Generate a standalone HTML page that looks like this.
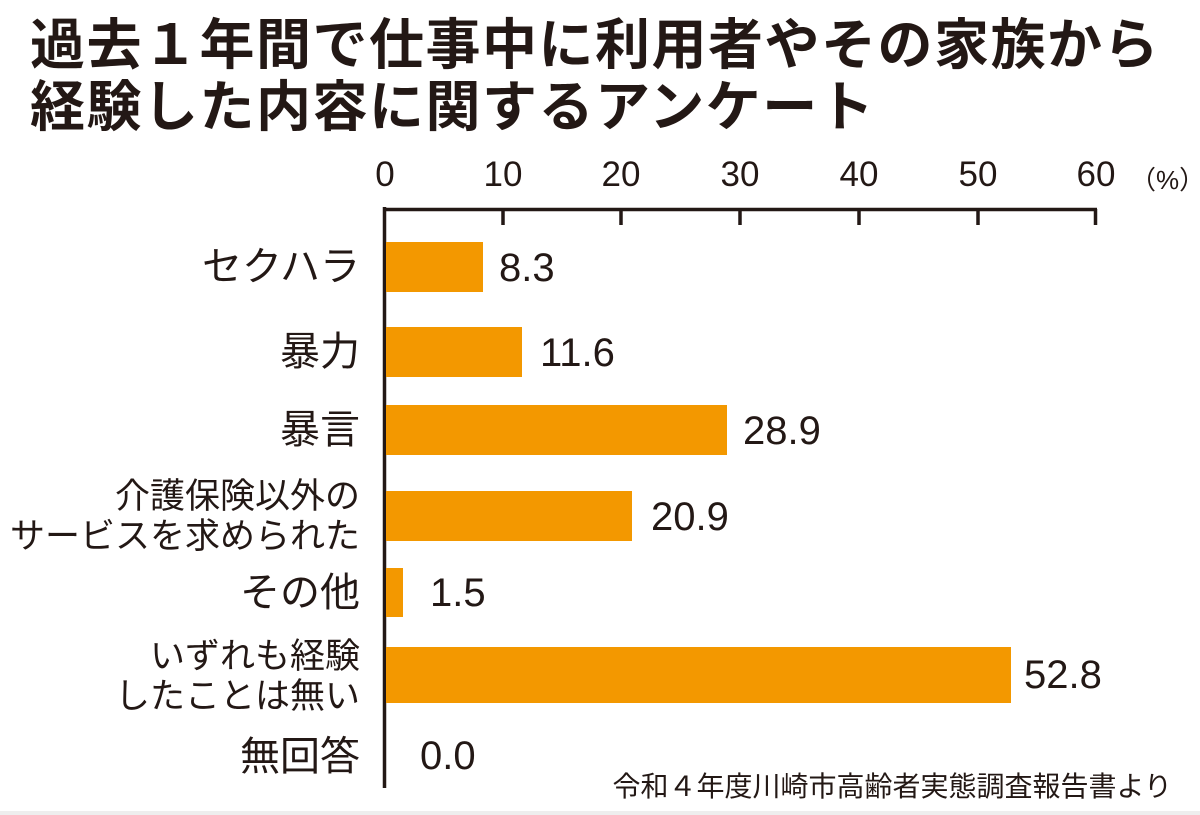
<!DOCTYPE html>
<html><head><meta charset="utf-8"><style>
body{margin:0;width:1200px;height:815px;background:#fff;overflow:hidden;position:relative;font-family:"Liberation Sans","Noto Sans CJK JP",sans-serif;color:#231815}
.t{position:absolute;left:30px;font-size:55px;font-weight:bold;line-height:1;letter-spacing:1.5px;white-space:nowrap}
.lab{position:absolute;right:840px;text-align:right;font-size:40px;line-height:1;white-space:nowrap}
.lab2{position:absolute;right:840px;text-align:right;font-size:35px;line-height:40px;white-space:nowrap}
.bar{position:absolute;left:386px;background:#f39800}
.v{position:absolute;font-size:40px;line-height:1}
.tk{position:absolute;top:157px;font-size:35px;line-height:1;transform:translateX(-50%)}
</style></head><body>
<div class="t" style="top:18px">過去１年間で仕事中に利用者やその家族から</div>
<div class="t" style="top:80px">経験した内容に関するアンケート</div>
<div class="tk" style="left:385px">0</div>
<div class="tk" style="left:503px">10</div>
<div class="tk" style="left:621px">20</div>
<div class="tk" style="left:740px">30</div>
<div class="tk" style="left:859px">40</div>
<div class="tk" style="left:978px">50</div>
<div class="tk" style="left:1096px">60</div>
<div style="position:absolute;left:1130px;top:160px;font-size:26px">（%）</div>
<svg style="position:absolute;left:0;top:0" width="1200" height="815">
<line x1="384.5" y1="207" x2="384.5" y2="788" stroke="#231815" stroke-width="3.5"/>
<line x1="383" y1="209.5" x2="1097" y2="209.5" stroke="#231815" stroke-width="3.5"/>
<g stroke="#231815" stroke-width="3.5">
<line x1="503" y1="209" x2="503" y2="225"/><line x1="621" y1="209" x2="621" y2="225"/>
<line x1="740" y1="209" x2="740" y2="225"/><line x1="859" y1="209" x2="859" y2="225"/>
<line x1="978" y1="209" x2="978" y2="225"/><line x1="1095.5" y1="209" x2="1095.5" y2="225"/>
</g></svg>
<div class="bar" style="top:242px;width:97px;height:50px"></div>
<div class="bar" style="top:327px;width:136px;height:50px"></div>
<div class="bar" style="top:405px;width:341px;height:50px"></div>
<div class="bar" style="top:491px;width:246px;height:50px"></div>
<div class="bar" style="top:568px;width:17px;height:49px"></div>
<div class="bar" style="top:647px;width:625px;height:56px"></div>
<div class="v" style="left:499px;top:248px">8.3</div>
<div class="v" style="left:540px;top:333px">11.6</div>
<div class="v" style="left:743px;top:411px">28.9</div>
<div class="v" style="left:651px;top:497px">20.9</div>
<div class="v" style="left:430px;top:573px">1.5</div>
<div class="v" style="left:1024px;top:655px">52.8</div>
<div class="v" style="left:420px;top:736px">0.0</div>
<div class="lab" style="top:247px">セクハラ</div>
<div class="lab" style="top:332px">暴力</div>
<div class="lab" style="top:410px">暴言</div>
<div class="lab2" style="top:477px">介護保険以外の<br>サービスを求められた</div>
<div class="lab" style="top:573px">その他</div>
<div class="lab2" style="top:637px">いずれも経験<br>したことは無い</div>
<div class="lab" style="top:737px">無回答</div>
<div style="position:absolute;right:28px;top:765px;font-size:28px;white-space:nowrap">令和４年度川崎市高齢者実態調査報告書より</div>
<div style="position:absolute;left:0;top:811px;width:1200px;height:4px;background:#eee"></div>
</body></html>
